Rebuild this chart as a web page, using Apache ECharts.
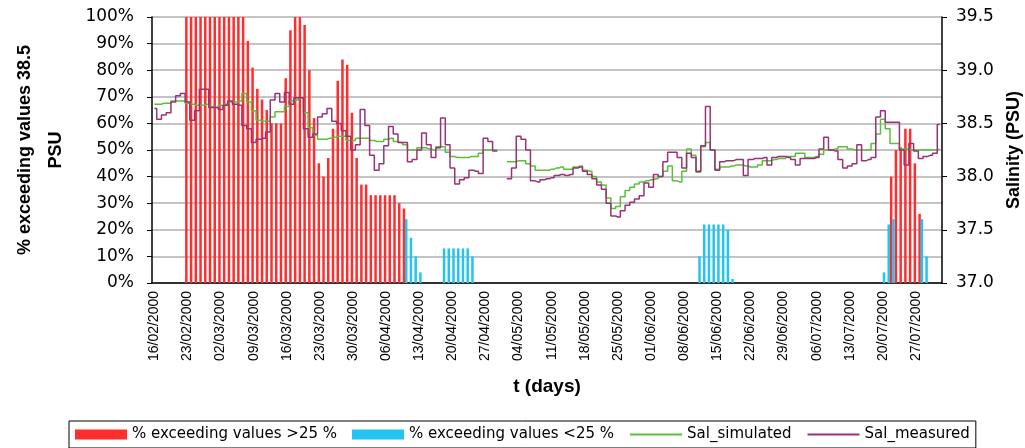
<!DOCTYPE html>
<html>
<head>
<meta charset="utf-8">
<title>Salinity 2000</title>
<script src="https://cdn.jsdelivr.net/npm/echarts@6/dist/echarts.min.js"></script>
<style>
    html, body { margin: 0; padding: 0; background: #fff; }
    #chart { width: 1025px; height: 448px; }
</style>
</head>
<body>
<div id="chart"></div>
<script>
    // one category per day from 16/02; the original sheet has no 29/02,
    // so the labels are counted on a 28-day February
    var dayCount = 167;
    var days = [];
    for (var i = 0; i < dayCount; i++) {
        var dt = new Date(2001, 1, 16 + i);
        var dd = ('0' + dt.getDate()).slice(-2);
        var mm = ('0' + (dt.getMonth() + 1)).slice(-2);
        days.push(dd + '/' + mm + '/2000');
    }

    // % exceeding values >25 %
    var overBars = [
        0, 0, 0, 0, 0, 0, 0, 100, 100, 100,
        100, 100, 100, 100, 100, 100, 100, 100, 100, 100,
        91, 81, 73, 69, 65, 60, 60, 60, 77, 95,
        100, 100, 97, 80, 62, 45, 40, 47, 58, 76,
        84, 82, 64, 47, 37, 37, 33, 33, 33, 33,
        33, 33, 30, 28, 0, 0, 0, 0, 0, 0,
        0, 0, 0, 0, 0, 0, 0, 0, 0, 0,
        0, 0, 0, 0, 0, 0, 0, 0, 0, 0,
        0, 0, 0, 0, 0, 0, 0, 0, 0, 0,
        0, 0, 0, 0, 0, 0, 0, 0, 0, 0,
        0, 0, 0, 0, 0, 0, 0, 0, 0, 0,
        0, 0, 0, 0, 0, 0, 0, 0, 0, 0,
        0, 0, 0, 0, 0, 0, 0, 0, 0, 0,
        0, 0, 0, 0, 0, 0, 0, 0, 0, 0,
        0, 0, 0, 0, 0, 0, 0, 0, 0, 0,
        0, 0, 0, 0, 0, 0, 40, 50, 51, 58,
        58, 45, 26, 0, 0, 0, 0
    ];

    // % exceeding values <25 %
    var underBars = [
        0, 0, 0, 0, 0, 0, 0, 0, 0, 0,
        0, 0, 0, 0, 0, 0, 0, 0, 0, 0,
        0, 0, 0, 0, 0, 0, 0, 0, 0, 0,
        0, 0, 0, 0, 0, 0, 0, 0, 0, 0,
        0, 0, 0, 0, 0, 0, 0, 0, 0, 0,
        0, 0, 0, 24, 17, 10, 4, 0, 0, 0,
        0, 13, 13, 13, 13, 13, 13, 10, 0, 0,
        0, 0, 0, 0, 0, 0, 0, 0, 0, 0,
        0, 0, 0, 0, 0, 0, 0, 0, 0, 0,
        0, 0, 0, 0, 0, 0, 0, 0, 0, 0,
        0, 0, 0, 0, 0, 0, 0, 0, 0, 0,
        0, 0, 0, 0, 0, 10, 22, 22, 22, 22,
        22, 20, 1.5, 0, 0, 0, 0, 0, 0, 0,
        0, 0, 0, 0, 0, 0, 0, 0, 0, 0,
        0, 0, 0, 0, 0, 0, 0, 0, 0, 0,
        0, 0, 0, 0, 4, 22, 24, 0, 0, 0,
        0, 0, 24, 10, 0, 0, 0
    ];

    // Sal_simulated (PSU)
    var salSimulated = [
        38.68, 38.68, 38.69, 38.69, 38.71, 38.71, 38.71, 38.69, 38.68, 38.67,
        38.67, 38.68, 38.66, 38.65, 38.67, 38.68, 38.70, 38.70, 38.71, 38.78,
        38.70, 38.62, 38.53, 38.52, 38.52, 38.56, 38.61, 38.61, 38.66, 38.71,
        38.72, 38.74, 38.60, 38.46, 38.39, 38.35, 38.35, 38.36, 38.37, 38.38,
        38.38, 38.34, 38.34, 38.36, 38.36, 38.36, 38.34, 38.33, 38.33, 38.35,
        38.36, 38.33, 38.32, 38.30, 38.25, 38.25, 38.27, 38.27, 38.26, 38.25,
        38.28, 38.28, 38.23, 38.19, 38.18, 38.18, 38.18, 38.19, 38.19, 38.22,
        38.25, 38.25, 38.25, null, null, 38.14, 38.14, 38.15, 38.15, 38.12,
        38.10, 38.06, 38.06, 38.06, 38.07, 38.08, 38.09, 38.07, 38.07, 38.09,
        38.10, 38.06, 38.05, 38.00, 37.95, 37.92, 37.80, 37.70, 37.72, 37.81,
        37.87, 37.90, 37.93, 37.95, 37.96, 37.97, 37.98, 38.00, 38.05, 38.10,
        37.96, 37.95, 38.05, 38.26, 38.20, 38.04, 38.28, 38.32, 38.25, 38.07,
        38.09, 38.09, 38.10, 38.11, 38.11, 38.10, 38.09, 38.09, 38.11, 38.15,
        38.15, 38.16, 38.17, 38.17, 38.19, 38.19, 38.22, 38.22, 38.18, 38.18,
        38.19, 38.21, 38.25, 38.25, 38.26, 38.28, 38.28, 38.26, 38.25, 38.25,
        38.25, 38.25, 38.31, 38.40, 38.54, 38.45, 38.31, 38.31, 38.26, 38.26,
        38.25, 38.25, 38.25, 38.25, 38.25, 38.25, 38.26
    ];

    // Sal_measured (PSU)
    var salMeasured = [
        38.64, 38.54, 38.58, 38.60, 38.70, 38.76, 38.78, 38.70, 38.53, 38.62,
        38.82, 38.82, 38.65, 38.65, 38.63, 38.67, 38.71, 38.68, 38.67, 38.48,
        38.45, 38.32, 38.35, 38.36, 38.42, 38.72, 38.78, 38.70, 38.79, 38.68,
        38.74, 38.74, 38.45, 38.37, 38.40, 38.56, 38.59, 38.64, 38.52, 38.50,
        38.43, 38.38, 38.25, 38.30, 38.63, 38.48, 38.20, 38.06, 38.12, 38.29,
        38.47, 38.40, 38.32, 38.32, 38.14, 38.16, 38.25, 38.41, 38.30, 38.18,
        38.27, 38.55, 38.30, 38.08, 37.93, 37.97, 37.99, 38.06, 38.05, 38.03,
        38.36, 38.33, 38.24, null, null, 37.98, 38.08, 38.38, 38.35, 38.25,
        37.96, 37.95, 37.97, 37.98, 37.99, 38.01, 38.02, 38.01, 38.02, 38.08,
        38.09, 38.05, 38.02, 37.98, 37.92, 37.88, 37.75, 37.63, 37.62, 37.68,
        37.73, 37.76, 37.79, 37.82, 37.94, 37.90, 38.02, 38.00, 38.14, 38.23,
        38.23, 38.18, 38.08, 38.22, 38.18, 38.05, 38.29, 38.66, 38.25, 38.06,
        38.14, 38.15, 38.15, 38.16, 38.16, 38.01, 38.16, 38.17, 38.17, 38.18,
        38.11, 38.18, 38.19, 38.19, 38.18, 38.16, 38.11, 38.17, 38.17, 38.17,
        38.18, 38.26, 38.37, 38.25, 38.24, 38.16, 38.08, 38.10, 38.12, 38.30,
        38.15, 38.16, 38.18, 38.56, 38.62, 38.51, 38.51, 38.51, 38.25, 38.11,
        38.31, 38.24, 38.17, 38.19, 38.20, 38.22, 38.49
    ];

    var pctTicks = [0, 100, 10];      // min, max, step of the left axis
    var salTicks = [37, 39.5, 0.5];   // min, max, step of the right axis

    var labelFont = 'DejaVu Sans';
    var titleFont = 'Liberation Sans';

    var myChart = echarts.init(document.getElementById('chart'));

    var option = {
        animation: false,
        grid: {
            left: 152,
            right: 83,
            top: 17,
            bottom: 165,
            outerBoundsMode: 'none'
        },
        legend: {
            left: 69,
            top: 421,
            itemWidth: 52,
            itemHeight: 10,
            itemGap: 15,
            padding: [6, 6],
            borderColor: '#000',
            borderWidth: 1,
            textStyle: {fontFamily: labelFont, fontSize: 15, color: '#000'},
            data: [
                {name: '% exceeding values >25 %', icon: 'rect'},
                {name: '% exceeding values <25 %', icon: 'rect'},
                {name: 'Sal_simulated', itemStyle: {opacity: 0}},
                {name: 'Sal_measured', itemStyle: {opacity: 0}}
            ]
        },
        xAxis: {
            type: 'category',
            data: days,
            name: 't (days)',
            nameLocation: 'middle',
            nameGap: 94,
            nameTextStyle: {fontFamily: titleFont, fontWeight: 'bold', fontSize: 19, color: '#000'},
            axisLine: {lineStyle: {color: '#000', width: 1.5}},
            axisTick: {interval: 6, length: 5, lineStyle: {color: '#000'}},
            axisLabel: {
                interval: 6,
                rotate: 90,
                margin: 8,
                fontFamily: titleFont,
                fontSize: 14,
                color: '#000'
            },
            splitLine: {show: false}
        },
        yAxis: [
            {
                type: 'value',
                min: pctTicks[0],
                max: pctTicks[1],
                interval: pctTicks[2],
                name: '% exceeding values 38.5\nPSU',
                nameLocation: 'middle',
                nameRotate: 90,
                nameGap: 80,
                nameTextStyle: {fontFamily: titleFont, fontWeight: 'bold', fontSize: 18, lineHeight: 31, color: '#000'},
                axisLine: {show: true, lineStyle: {color: '#000', width: 1.5}},
                axisTick: {show: true, length: 5, lineStyle: {color: '#000'}},
                axisLabel: {formatter: '{value}%', margin: 18, fontFamily: labelFont, fontSize: 17, color: '#000'},
                splitLine: {lineStyle: {color: '#b0b0b0', width: 1.5}}
            },
            {
                type: 'value',
                min: salTicks[0],
                max: salTicks[1],
                interval: salTicks[2],
                name: 'Salinity (PSU)',
                nameLocation: 'middle',
                nameRotate: 90,
                nameGap: 60,
                nameTextStyle: {fontFamily: titleFont, fontWeight: 'bold', fontSize: 18, color: '#000'},
                axisLine: {show: true, lineStyle: {color: '#000', width: 1.5}},
                axisTick: {show: true, length: 5, lineStyle: {color: '#000'}},
                axisLabel: {
                    formatter: function (v) { return v.toFixed(1); },
                    margin: 14,
                    fontFamily: labelFont,
                    fontSize: 17,
                    color: '#000'
                },
                splitLine: {show: false}
            }
        ],
        series: [
            {
                name: '% exceeding values >25 %',
                type: 'bar',
                yAxisIndex: 0,
                data: overBars,
                barWidth: 2.5,
                barGap: '-10%',
                itemStyle: {color: '#ff2d2d'}
            },
            {
                name: '% exceeding values <25 %',
                type: 'bar',
                yAxisIndex: 0,
                data: underBars,
                barWidth: 2.5,
                barGap: '-10%',
                itemStyle: {color: '#22c4f2'}
            },
            {
                name: 'Sal_simulated',
                type: 'line',
                yAxisIndex: 1,
                step: 'middle',
                symbol: 'none',
                data: salSimulated,
                itemStyle: {color: '#5cbf3a'},
                lineStyle: {color: '#5cbf3a', width: 1.5},
                z: 3
            },
            {
                name: 'Sal_measured',
                type: 'line',
                yAxisIndex: 1,
                step: 'middle',
                symbol: 'none',
                data: salMeasured,
                itemStyle: {color: '#993377'},
                lineStyle: {color: '#993377', width: 1.5},
                z: 4
            }
        ]
    };

    myChart.setOption(option);
</script>
</body>
</html>
